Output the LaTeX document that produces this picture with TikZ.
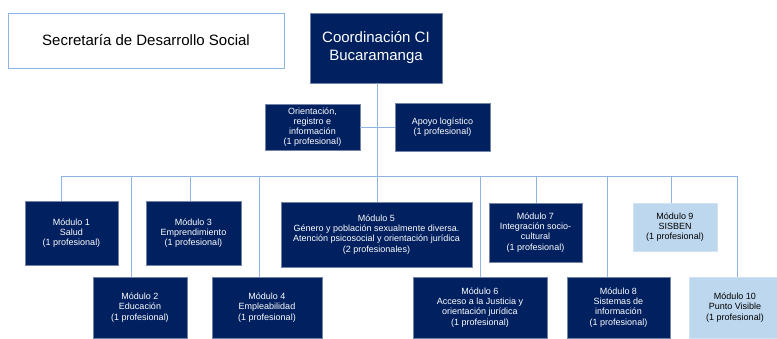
\documentclass[tikz,border=0pt]{standalone}
\usepackage{fontspec}
\setmainfont{Liberation Sans}
\usetikzlibrary{positioning}
\definecolor{navy}{RGB}{0,32,96}
\definecolor{paleblue}{RGB}{189,215,238}
\definecolor{linkblue}{RGB}{141,180,226}
\tikzset{
  modbox/.style={rectangle, draw=navy!55!white, line width=0.4pt,
    fill=navy, text=white, align=center, inner sep=2pt,
    font=\fontsize{9}{10.2}\selectfont},
  lightbox/.style={modbox, fill=paleblue, text=black, draw=paleblue!70!white},
  headbox/.style={modbox, font=\fontsize{15}{18}\selectfont},
  titlebox/.style={rectangle, draw=linkblue, line width=0.9pt, fill=white,
    font=\fontsize{15}{18}\selectfont},
  link/.style={draw=linkblue, line width=1pt},
}

\begin{document}
\begin{tikzpicture}[x=1pt, y=-1pt]
  \useasboundingbox (0,0) rectangle (777,338);

  % top row
  \node[titlebox, minimum width=276pt, minimum height=55pt] (secre) at (146,40.5)
    {Secretaría de Desarrollo Social};
  \node[headbox, minimum width=132pt, minimum height=70pt] (coord) at (376,48)
    {Coordinación CI\\Bucaramanga};

  % staff
  \node[modbox, minimum width=95pt, minimum height=46pt] (orient) at (312.5,127)
    {Orientación,\\registro e\\información\\(1 profesional)};
  \node[modbox, minimum width=95pt, minimum height=48pt] (apoyo) at (442.5,127)
    {Apoyo logístico\\(1 profesional)};

  % modules, upper row
  \node[modbox, minimum width=93pt, minimum height=64pt] (m1) at (71.5,233)
    {Módulo 1\\Salud\\(1 profesional)};
  \node[modbox, minimum width=95pt, minimum height=64pt] (m3) at (193.5,233)
    {Módulo 3\\Emprendimiento\\(1 profesional)};
  \node[modbox, minimum width=191pt, minimum height=65pt] (m5) at (376.5,234.5)
    {Módulo 5\\Género y población sexualmente diversa.\\Atención psicosocial y orientación jurídica\\(2 profesionales)};
  \node[modbox, minimum width=93pt, minimum height=59pt] (m7) at (535.5,232.5)
    {Módulo 7\\Integración socio-\\cultural\\(1 profesional)};
  \node[lightbox, minimum width=84pt, minimum height=48pt] (m9) at (675,227)
    {Módulo 9\\SISBEN\\(1 profesional)};

  % modules, lower row
  \node[modbox, minimum width=94pt, minimum height=61pt] (m2) at (140,307.5)
    {Módulo 2\\Educación\\(1 profesional)};
  \node[modbox, minimum width=110pt, minimum height=61pt] (m4) at (267,307.5)
    {Módulo 4\\Empleabilidad\\(1 profesional)};
  \node[modbox, minimum width=134pt, minimum height=61pt] (m6) at (480,307.5)
    {Módulo 6\\Acceso a la Justicia y\\orientación jurídica\\(1 profesional)};
  \node[modbox, minimum width=103pt, minimum height=61pt] (m8) at (618.5,307.5)
    {Módulo 8\\Sistemas de\\información\\(1 profesional)};
  \node[lightbox, minimum width=92pt, minimum height=61pt] (m10) at (735,307.5)
    {Módulo 10\\Punto Visible\\(1 profesional)};

  % branch points on the bar
  \coordinate (d1) at (61,176);
  \coordinate (d2) at (131,176);
  \coordinate (d3) at (190,176);
  \coordinate (d4) at (259,176);
  \coordinate (d5) at (377,176);
  \coordinate (d6) at (480,176);
  \coordinate (d7) at (536,176);
  \coordinate (d8) at (607,176);
  \coordinate (d9) at (671,176);
  \coordinate (d10) at (737,176);

  % connectors
  \draw[link] (coord.south -| d5) -- (d5);
  \draw[link] (orient.east) -- (apoyo.west);
  \draw[link] (d1) -- (d10);
  \foreach \i in {1,...,10}
    \draw[link] (d\i) -- (d\i |- m\i.north);
\end{tikzpicture}
\end{document}
